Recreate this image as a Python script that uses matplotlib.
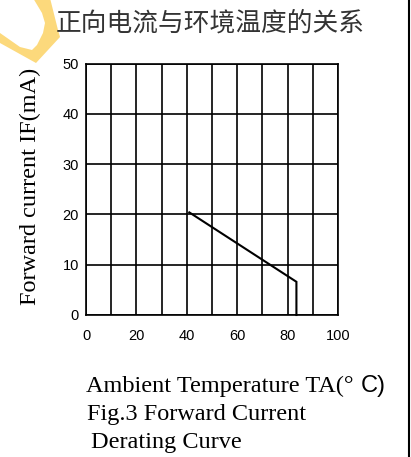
import matplotlib
matplotlib.use("Agg")
import matplotlib.pyplot as plt
from matplotlib.lines import Line2D
from matplotlib.patches import Polygon

# ---- data ----
temps = [41, 83.5, 83.5]          # Ambient temperature TA (°C)
currents = [20.4, 6.6, 0.0]       # Forward current IF (mA)
x_ticks = [0, 20, 40, 60, 80, 100]
x_minor = [10, 30, 50, 70, 90]
y_ticks = [0, 10, 20, 30, 40, 50]
title_text = "正向电流与环境温度的关系"
ylabel_text = "Forward current IF(mA)"
xlabel_main = "Ambient Temperature TA(°"
xlabel_tail = "C)"
caption_lines = ["Fig.3 Forward Current", "Derating Curve"]

W, H = 411, 457
fig = plt.figure(figsize=(W / 100, H / 100), dpi=100)
fig.patch.set_facecolor("white")

def fx(px):
    return px / W

def fy(py):
    return 1 - py / H

# axes placement
left, right, top, bottom = 86, 338, 63.5, 315
ax = fig.add_axes([fx(left), fy(bottom), fx(right) - fx(left), (bottom - top) / H])
ax.set_xlim(0, 100)
ax.set_ylim(0, 50)
ax.set_xticks(x_ticks)
ax.set_xticks(x_minor, minor=True)
ax.set_yticks(y_ticks)
ax.grid(True, which="both", color="black", linewidth=1.2)
ax.set_axisbelow(True)
for s in ax.spines.values():
    s.set_color("black")
    s.set_linewidth(1.2)
ax.tick_params(which="both", length=0)
ax.tick_params(axis="x", pad=10, labelsize=10.5)
ax.tick_params(axis="y", pad=5, labelsize=10.5)
for lab in ax.get_xticklabels() + ax.get_yticklabels():
    lab.set_fontfamily("Liberation Sans")

ax.plot(temps, currents, color="black", linewidth=1.5, solid_joinstyle="miter",
        clip_on=False, zorder=5)

# decorative yellow ring fragment (top-left), outline in pixels
ring_outer = [(50, -2), (58, 30), (60, 37), (36, 63), (0, 43), (-3, 43)]
ring_inner = [(-3, 33), (0, 33), (20, 47), (32, 50), (37, 45), (43, 33),
              (45, 23), (42, 13), (33, -2)]
ring_pts = [(fx(a), fy(b)) for a, b in ring_outer + ring_inner]
fig.add_artist(Polygon(ring_pts, closed=True, transform=fig.transFigure,
                       facecolor="#FCD97C", edgecolor="none", zorder=0))

# right border line
fig.add_artist(Line2D([fx(408.5), fx(408.5)], [0, 1], transform=fig.transFigure,
                      color="black", linewidth=1.5))

# title
fig.text(fx(210), fy(24), title_text, ha="center", va="center", fontsize=18.5,
         family=["Noto Sans CJK SC", "DejaVu Sans"], color="#333333")

# y label
fig.text(fx(30), fy(186), ylabel_text, rotation=90, ha="center", va="center",
         fontsize=17.5, family="Liberation Serif", color="black")

# x label (two fonts) and caption
t1 = fig.text(fx(86), fy(392), xlabel_main, ha="left", va="baseline",
              fontsize=17.5, family="Liberation Serif", color="black")
fig.canvas.draw()
bb = t1.get_window_extent()
fig.text((bb.x1 + 7) / W, fy(392), xlabel_tail, ha="left", va="baseline",
         fontsize=17, family="Liberation Sans", color="black")

fig.text(fx(87), fy(420), caption_lines[0], ha="left", va="baseline",
         fontsize=17.5, family="Liberation Serif", color="black")
fig.text(fx(91), fy(448), caption_lines[1], ha="left", va="baseline",
         fontsize=17.5, family="Liberation Serif", color="black")

fig.savefig("out.png", dpi=100, facecolor="white")
